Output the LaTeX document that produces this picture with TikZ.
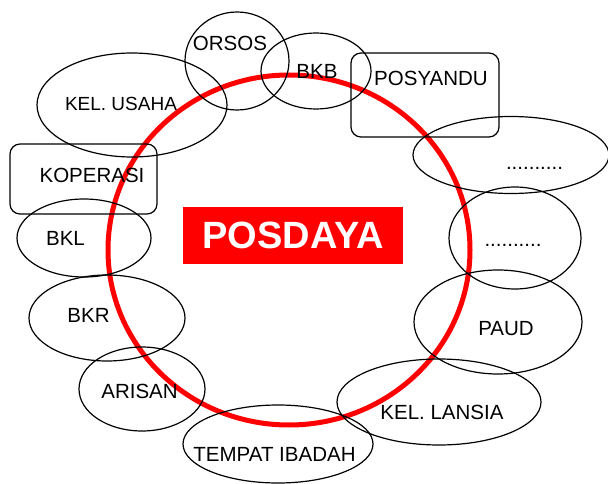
\documentclass[tikz,border=0pt]{standalone}
\usepackage{fontspec}
\setmainfont{Liberation Sans}
\begin{document}
\begin{tikzpicture}[x=1pt,y=-1pt,line width=1.2pt]
\tikzset{lbl/.style={font=\fontsize{20.5}{23}\selectfont,inner sep=0pt}}
\useasboundingbox(0,0) rectangle(608,484);
% big ring
\draw[red,line width=5pt](289,250) ellipse(181pt and 175pt);
% title
\node[fill=red,text=white,font=\fontsize{38}{42}\selectfont\bfseries,minimum width=220pt,minimum height=57pt,inner sep=0pt](posdaya) at(293,235){POSDAYA};
% groups round the ring
\draw(237,61) ellipse(52pt and 49pt);
\node[lbl](orsos) at(230,43.5){ORSOS};
\draw(316,71) ellipse(55pt and 38pt);
\node[lbl](bkb) at(317,71.5){BKB};
\draw[rounded corners=10pt](351,53) rectangle(499,137);
\node[lbl](posyandu) at(431,78){POSYANDU};
\draw(511,155) ellipse(98pt and 38.5pt);
\node[lbl,anchor=base](dotsa) at(534.5,169.5){..........};
\draw(515,238) ellipse(66pt and 51pt);
\node[lbl,anchor=base](dotsb) at(513,246.5){..........};
\draw(498,322) ellipse(84pt and 52pt);
\node[lbl](paud) at(506,329){PAUD};
\draw(439,402) ellipse(102pt and 43pt);
\node[lbl](lansia) at(442,412.5){KEL. LANSIA};
\draw(278,444) ellipse(95pt and 39pt);
\node[lbl](ibadah) at(274.5,454.5){TEMPAT IBADAH};
\draw(142,389) ellipse(63pt and 42pt);
\node[lbl](arisan) at(139.5,391.5){ARISAN};
\draw(107,318) ellipse(78pt and 43pt);
\node[lbl](bkr) at(88.5,315.5){BKR};
\draw(84,238) ellipse(67pt and 39pt);
\node[lbl](bkl) at(65.5,238.5){BKL};
\draw[rounded corners=10pt](10,144) rectangle(157,214);
\node[lbl](koperasi) at(92,175.5){KOPERASI};
\draw(132,105) ellipse(95pt and 52pt);
\node[lbl,font=\fontsize{19}{22}\selectfont](usaha) at(121,104){KEL. USAHA};
\end{tikzpicture}
\end{document}
